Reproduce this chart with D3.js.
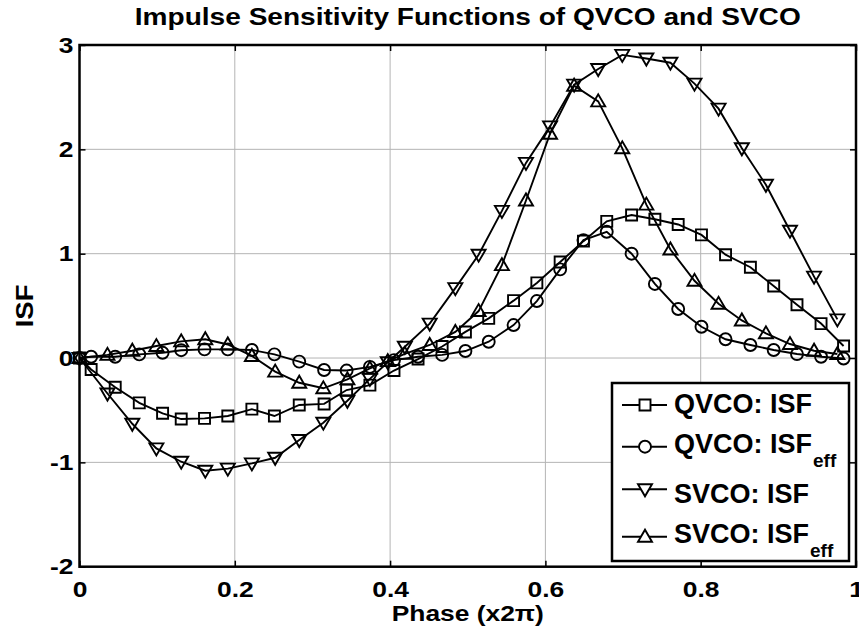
<!DOCTYPE html>
<html lang="en">
<head>
	<meta charset="UTF-8">
	<title>Impulse Sensitivity Functions of QVCO and SVCO</title>
	<script src="https://cdnjs.cloudflare.com/ajax/libs/d3/7.8.5/d3.min.js"></script>
	<style>
		body { margin: 0; background: #fff; }
		svg { display: block; font-family: "Liberation Sans", Arial, sans-serif; font-weight: bold; }
	</style>
</head>
<body>
	<svg id="viz"></svg>
	<script>
		// phase samples (x2pi) and ISF values
		const qvcoPhase = [0, 0.015, 0.046, 0.077, 0.107, 0.131, 0.161, 0.191, 0.222, 0.251, 0.283, 0.315, 0.344, 0.374, 0.405, 0.436, 0.467, 0.497, 0.527, 0.559, 0.589, 0.619, 0.649, 0.679, 0.711, 0.741, 0.771, 0.801, 0.832, 0.864, 0.894, 0.924, 0.955, 0.984];
		const qvcoIsf = [0, -0.11, -0.28, -0.43, -0.53, -0.585, -0.578, -0.556, -0.49, -0.556, -0.45, -0.44, -0.307, -0.26, -0.12, -0.01, 0.11, 0.25, 0.38, 0.55, 0.72, 0.92, 1.12, 1.31, 1.37, 1.33, 1.28, 1.18, 0.99, 0.87, 0.69, 0.51, 0.33, 0.115];
		const qvcoIsfEff = [0, 0.012, 0.012, 0.035, 0.05, 0.075, 0.083, 0.083, 0.077, 0.035, -0.035, -0.115, -0.12, -0.085, -0.02, 0.012, 0.03, 0.067, 0.156, 0.316, 0.546, 0.85, 1.13, 1.21, 1.0, 0.71, 0.47, 0.30, 0.18, 0.125, 0.077, 0.038, 0.012, -0.005];

		const svcoPhase = [0, 0.036, 0.068, 0.099, 0.131, 0.162, 0.191, 0.222, 0.252, 0.283, 0.314, 0.345, 0.374, 0.397, 0.419, 0.451, 0.484, 0.514, 0.544, 0.575, 0.606, 0.637, 0.668, 0.699, 0.730, 0.761, 0.792, 0.823, 0.853, 0.884, 0.915, 0.946, 0.976];
		const svcoIsf = [0, -0.34, -0.63, -0.866, -0.994, -1.08, -1.06, -1.01, -0.956, -0.786, -0.62, -0.41, -0.2, -0.04, 0.108, 0.33, 0.67, 0.99, 1.41, 1.87, 2.22, 2.62, 2.77, 2.905, 2.87, 2.83, 2.63, 2.39, 2.01, 1.66, 1.22, 0.78, 0.37];
		const svcoIsfEff = [0, 0.03, 0.07, 0.115, 0.16, 0.18, 0.13, 0.02, -0.13, -0.237, -0.29, -0.205, -0.1, -0.03, 0.04, 0.125, 0.25, 0.45, 0.89, 1.51, 2.15, 2.61, 2.46, 2.01, 1.47, 1.04, 0.74, 0.52, 0.36, 0.237, 0.134, 0.07, 0.038];

		const xTicks = [0, 0.2, 0.4, 0.6, 0.8, 1];
		const yTicks = [-2, -1, 0, 1, 2, 3];

		const series = [
			{ name: 'QVCO: ISF', sub: '', marker: 'square', x: qvcoPhase, y: qvcoIsf },
			{ name: 'QVCO: ISF', sub: 'eff', marker: 'circle', x: qvcoPhase, y: qvcoIsfEff },
			{ name: 'SVCO: ISF', sub: '', marker: 'down', x: svcoPhase, y: svcoIsf },
			{ name: 'SVCO: ISF', sub: 'eff', marker: 'up', x: svcoPhase, y: svcoIsfEff }
		];

		const width = 859;
		const height = 637;
		const plotL = 79.5, plotR = 856, plotT = 45, plotB = 566.7;
		const wide = 1.2; // the original's text renders wider than Arial

		const svg = d3.select('#viz')
			.attr('width', width)
			.attr('height', height);

		const x = d3.scaleLinear().domain([0, 1]).range([plotL, plotR]);
		const y = d3.scaleLinear().domain([-2, 3]).range([plotB, plotT]);

		// text placed at (px, py) and stretched sideways
		function label(px, py, str, size, anchor, k) {
			return svg.append('text')
				.attr('transform', `translate(${px},${py}) scale(${k},1)`)
				.attr('text-anchor', anchor)
				.attr('font-size', size)
				.text(str);
		}

		// grid
		svg.append('g').selectAll('line')
			.data(xTicks.slice(1, -1))
			.join('line')
			.attr('x1', d => x(d)).attr('x2', d => x(d))
			.attr('y1', plotT).attr('y2', plotB)
			.attr('stroke', '#b4b4b4').attr('stroke-width', 1);
		svg.append('g').selectAll('line')
			.data(yTicks.slice(1, -1))
			.join('line')
			.attr('x1', plotL).attr('x2', plotR)
			.attr('y1', d => y(d)).attr('y2', d => y(d))
			.attr('stroke', '#b4b4b4').attr('stroke-width', 1);

		// axes (ticks inward), plain hyphen for negatives like the original
		const plain = d => String(d);
		const axisStyle = g => {
			g.select('.domain').remove();
			g.selectAll('line').attr('stroke', '#000').attr('stroke-width', 1.5);
			g.selectAll('text').attr('font-size', 22).attr('font-weight', 'bold')
				.attr('font-family', '"Liberation Sans", Arial, sans-serif').attr('fill', '#000')
				.attr('transform', `scale(${wide},1)`);
		};
		svg.append('g')
			.attr('transform', `translate(0,${plotB})`)
			.call(d3.axisBottom(x).tickValues(xTicks).tickFormat(plain).tickSizeInner(-6).tickPadding(15))
			.call(axisStyle);
		svg.append('g')
			.attr('transform', `translate(0,${plotT})`)
			.call(d3.axisTop(x).tickValues(xTicks).tickFormat('').tickSizeInner(-6))
			.call(axisStyle);
		svg.append('g')
			.attr('transform', `translate(${plotL},0)`)
			.call(d3.axisLeft(y).tickValues(yTicks).tickFormat(plain).tickSizeInner(-6).tickPadding(5))
			.call(axisStyle);
		svg.append('g')
			.attr('transform', `translate(${plotR},0)`)
			.call(d3.axisRight(y).tickValues(yTicks).tickFormat('').tickSizeInner(-6))
			.call(axisStyle);

		svg.append('rect')
			.attr('x', plotL).attr('y', plotT)
			.attr('width', plotR - plotL).attr('height', plotB - plotT)
			.attr('fill', 'none').attr('stroke', '#000').attr('stroke-width', 2.5);

		// markers
		const markerPath = (type) => {
			if (type === 'square') return 'M-5.5,-5.5H5.5V5.5H-5.5Z';
			if (type === 'circle') return d3.symbol(d3.symbolCircle, 113)();
			if (type === 'down') return 'M-7,-5L7,-5L0,7Z';
			return 'M-7,5L7,5L0,-7Z';
		};

		const line = d3.line().x(d => x(d[0])).y(d => y(d[1]));
		const plot = svg.append('g');
		series.forEach(s => {
			const pts = s.x.map((p, i) => [p, s.y[i]]);
			plot.append('path')
				.datum(pts)
				.attr('d', line)
				.attr('fill', 'none').attr('stroke', '#000').attr('stroke-width', 1.9);
			plot.append('g').selectAll('path')
				.data(pts)
				.join('path')
				.attr('transform', d => `translate(${x(d[0])},${y(d[1])})`)
				.attr('d', markerPath(s.marker))
				.attr('fill', 'none').attr('stroke', '#000').attr('stroke-width', 1.9);
		});

		// legend
		const lg = svg.append('g');
		lg.append('rect')
			.attr('x', 612).attr('y', 383)
			.attr('width', 237).attr('height', 178)
			.attr('fill', '#fff').attr('stroke', '#000').attr('stroke-width', 2.5);
		const rowLine = [405, 446.7, 489.3, 536.7];
		const rowBase = [413, 453, 503, 543];
		series.forEach((s, i) => {
			const cy = rowLine[i];
			lg.append('line')
				.attr('x1', 622).attr('x2', 667)
				.attr('y1', cy).attr('y2', cy)
				.attr('stroke', '#000').attr('stroke-width', 1.9);
			lg.append('path')
				.attr('transform', `translate(645,${cy})`)
				.attr('d', markerPath(s.marker))
				.attr('fill', '#fff').attr('stroke', '#000').attr('stroke-width', 1.9);
			const t = lg.append('text')
				.attr('x', 674).attr('y', rowBase[i])
				.attr('font-size', 27)
				.text(s.name);
			if (s.sub) {
				t.append('tspan')
					.attr('font-size', 19)
					.attr('dy', 14)
					.attr('dx', 1)
					.text(s.sub);
			}
		});

		// titles
		label((plotL + plotR) / 2, 25, 'Impulse Sensitivity Functions of QVCO and SVCO', 24, 'middle', 1.17);
		label((plotL + plotR) / 2, 621, 'Phase (x2\u03c0)', 22, 'middle', wide);
		svg.append('text')
			.attr('transform', `translate(33,${(plotT + plotB) / 2}) rotate(-90) scale(${wide},1)`)
			.attr('text-anchor', 'middle')
			.attr('font-size', 23)
			.text('ISF');
	</script>
</body>
</html>
